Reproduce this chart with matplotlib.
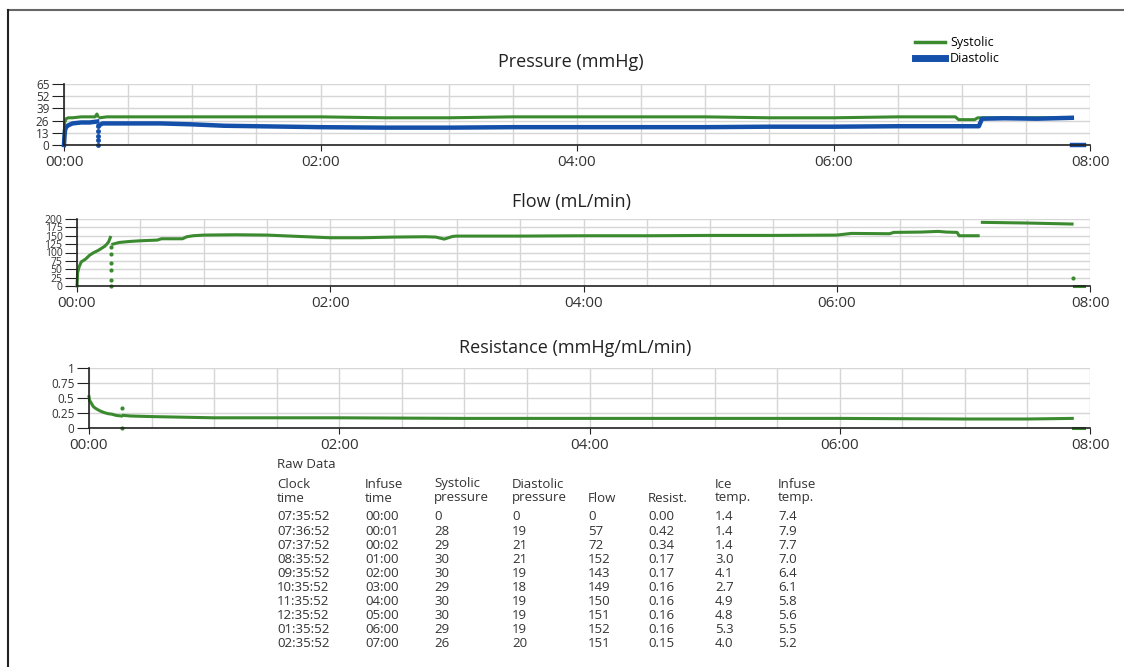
import numpy as np
import matplotlib.pyplot as plt
from matplotlib.lines import Line2D

plt.rcParams['font.family'] = ['Open Sans', 'DejaVu Sans']

# time values are minutes since start of infusion
# --- pressure (mmHg) ---
sys_t1 = [0, 0.3, 1, 2, 4, 8, 12, 14.5, 15.4, 15.8]
sys_v1 = [0, 24, 28, 29, 29, 30, 30, 30, 33, 31]
sys_t2 = [16.8, 20, 40, 60, 90, 120, 150, 180, 210, 240, 270, 300, 330, 360, 390, 417,
          418.5, 426, 427.5, 440, 455, 471.5]
sys_v2 = [29, 30, 30, 30, 30, 30, 29, 29, 30, 30, 30, 30, 29, 29, 30, 30,
          27, 27, 29, 29, 29, 29]
sys_t3 = [471.8, 477]
sys_v3 = [0, 0]

dia_t1 = [0, 0.2, 0.5, 1, 2, 4, 8, 12, 15.5]
dia_v1 = [0, 8, 16, 19, 21, 23, 24, 24, 25]
dia_drop_t = [15.9, 15.9, 15.9, 15.9, 15.9]
dia_drop_v = [20, 15, 10, 5, 0]
dia_t2 = [16.5, 18, 25, 45, 60, 75, 90, 105, 120, 150, 180, 210, 240, 270, 300, 330,
          360, 390, 420, 428, 429.5, 440, 455, 471.5]
dia_v2 = [21, 23, 23, 23, 22, 20.5, 20, 19.5, 19, 18.5, 18.5, 19, 19, 19, 19, 19.5,
          19.5, 20, 20, 20, 28, 28.5, 28, 29]
dia_t3 = [471.8, 477]
dia_v3 = [0, 0]

# --- flow (mL/min) ---
flow_t1 = [0, 0.3, 1, 2, 4, 6, 8, 10, 12, 13, 14, 15, 15.8]
flow_v1 = [0, 40, 57, 72, 80, 92, 100, 106, 114, 118, 124, 132, 145]
flow_drop_t = [16.1, 16.1, 16.1, 16.1, 16.1, 16.1]
flow_drop_v = [117, 95, 70, 48, 18, 0]
flow_t2 = [17, 20, 25, 30, 38, 40, 50, 52, 55, 60, 75, 90, 105, 120, 135, 150, 165, 170,
           174, 178, 180, 210, 240, 270, 300, 330, 360, 367, 385, 387, 400, 408, 412,
           417, 418, 427]
flow_v2 = [125, 130, 133, 135, 137, 141, 141, 147, 150, 152, 153, 152, 148, 144, 144, 146,
           147, 146, 140, 148, 149, 149, 150, 150, 151, 151, 152, 157, 156, 160, 161, 163,
           161, 160, 150, 150]
flow_t3 = [429, 450, 471.5]
flow_v3 = [190, 188, 185]
flow_end_t = [472]
flow_end_v = [25]
flow_t4 = [472.5, 477]
flow_v4 = [0, 0]

# --- resistance (mmHg/mL/min) ---
res_t1 = [0, 0.3, 1, 2, 3, 5, 7, 9, 11, 13, 15.5]
res_v1 = [0.52, 0.46, 0.42, 0.36, 0.33, 0.29, 0.26, 0.24, 0.23, 0.21, 0.2]
res_spike_t = [16, 16]
res_spike_v = [0.33, 0.0]
res_t2 = [16.5, 20, 30, 45, 60, 90, 120, 180, 240, 300, 360, 420, 450, 471.5]
res_v2 = [0.21, 0.2, 0.19, 0.18, 0.17, 0.17, 0.17, 0.16, 0.16, 0.16, 0.16, 0.15, 0.15, 0.16]
res_t3 = [472, 477]
res_v3 = [0, 0]

hour_ticks = [0, 2, 4, 6, 8]
hour_labels = ["00:00", "02:00", "04:00", "06:00", "08:00"]
pres_ticks = [0, 13, 26, 39, 52, 65]
flow_ticks = [0, 25, 50, 75, 100, 125, 150, 175, 200]
res_ticks = [0, 0.25, 0.5, 0.75, 1]
res_labels = ["0", "0.25", "0.5", "0.75", "1"]

# raw data table
tbl_headers = [("Clock", "time"), ("Infuse", "time"), ("Systolic", "pressure"),
               ("Diastolic", "pressure"), ("", "Flow"), ("", "Resist."),
               ("Ice", "temp."), ("Infuse", "temp.")]
clock_time = ["07:35:52", "07:36:52", "07:37:52", "08:35:52", "09:35:52", "10:35:52",
              "11:35:52", "12:35:52", "01:35:52", "02:35:52"]
infuse_time = ["00:00", "00:01", "00:02", "01:00", "02:00", "03:00", "04:00", "05:00",
               "06:00", "07:00"]
systolic = [0, 28, 29, 30, 30, 29, 30, 30, 29, 26]
diastolic = [0, 19, 21, 21, 19, 18, 19, 19, 19, 20]
flow = [0, 57, 72, 152, 143, 149, 150, 151, 152, 151]
resist = [0.00, 0.42, 0.34, 0.17, 0.17, 0.16, 0.16, 0.16, 0.16, 0.15]
ice_temp = [1.4, 1.4, 1.4, 3.0, 4.1, 2.7, 4.9, 4.8, 5.3, 4.0]
infuse_temp = [7.4, 7.9, 7.7, 7.0, 6.4, 6.1, 5.8, 5.6, 5.5, 5.2]

GREEN = '#3b8a2f'
BLUE = '#1450aa'
W, H = 1124, 667


def hrs(m):
    return np.array(m) / 60.0


fig = plt.figure(figsize=(W / 100, H / 100), dpi=100)


def px_axes(left, top, right, bottom):
    return fig.add_axes([left / W, 1 - bottom / H, (right - left) / W, (bottom - top) / H])


def style(ax, yticks, ylabels, fs):
    ax.set_xlim(0, 8)
    ax.set_ylim(yticks[0], yticks[-1])
    ax.set_xticks(hour_ticks)
    ax.set_xticklabels(hour_labels, fontsize=11, color='#333333')
    ax.set_xticks(np.arange(0, 8.01, 0.5), minor=True)
    ax.set_yticks(yticks)
    ax.set_yticklabels(ylabels, fontsize=fs, color='#333333')
    ax.grid(which='both', color='#d6d6d6', lw=1)
    ax.set_axisbelow(True)
    ax.tick_params(axis='x', which='minor', length=0)
    ax.tick_params(axis='x', which='major', length=4, pad=3, color='#222222')
    ax.tick_params(axis='y', length=9, pad=1.5, color='#222222')
    for s in ['top', 'right']:
        ax.spines[s].set_visible(False)
    for s in ['left', 'bottom']:
        ax.spines[s].set_color('#222222')
        ax.spines[s].set_linewidth(1.2)


# pressure
ax1 = px_axes(64, 84, 1090, 145)
style(ax1, pres_ticks, [str(v) for v in pres_ticks], 8.5)
for t, v in [(sys_t1, sys_v1), (sys_t2, sys_v2), (sys_t3, sys_v3)]:
    ax1.plot(hrs(t), v, color=GREEN, lw=2.2, clip_on=False)
for t, v in [(dia_t1, dia_v1), (dia_t2, dia_v2), (dia_t3, dia_v3)]:
    ax1.plot(hrs(t), v, color=BLUE, lw=3.2, clip_on=False)
ax1.plot(hrs(dia_drop_t), dia_drop_v, 'o', color=BLUE, ms=2.5, clip_on=False)

# flow
ax2 = px_axes(77, 219, 1090, 286)
style(ax2, flow_ticks, [str(v) for v in flow_ticks], 7.5)
for t, v in [(flow_t1, flow_v1), (flow_t2, flow_v2), (flow_t3, flow_v3), (flow_t4, flow_v4)]:
    ax2.plot(hrs(t), v, color=GREEN, lw=2.2, clip_on=False)
ax2.plot(hrs(flow_drop_t), flow_drop_v, 'o', color=GREEN, ms=2, clip_on=False)
ax2.plot(hrs(flow_end_t), flow_end_v, 'o', color=GREEN, ms=2, clip_on=False)

# resistance
ax3 = px_axes(89, 368, 1090, 428)
style(ax3, res_ticks, res_labels, 8.5)
for t, v in [(res_t1, res_v1), (res_t2, res_v2), (res_t3, res_v3)]:
    ax3.plot(hrs(t), v, color=GREEN, lw=2.2, clip_on=False)
ax3.plot(hrs(res_spike_t), res_spike_v, 'o', color=GREEN, ms=2, clip_on=False)

# titles
fig.text(571 / W, 1 - 62 / H, "Pressure (mmHg)", ha='center', va='center', fontsize=13, color='#222222')
fig.text(572 / W, 1 - 202 / H, "Flow (mL/min)", ha='center', va='center', fontsize=13, color='#222222')
fig.text(575 / W, 1 - 348 / H, "Resistance (mmHg/mL/min)", ha='center', va='center', fontsize=13, color='#222222')

# legend
handles = [Line2D([], [], color=GREEN, lw=2.5), Line2D([], [], color=BLUE, lw=5)]
fig.legend(handles, ["Systolic", "Diastolic"], loc='upper left',
           bbox_to_anchor=(910 / W, 1 - 31 / H), frameon=False, fontsize=9,
           handlelength=2.4, handletextpad=0.4, labelspacing=0.25, borderaxespad=0)

# page border (top and left)
fig.add_artist(Line2D([8 / W, 1], [1 - 9.5 / H, 1 - 9.5 / H], transform=fig.transFigure, color='#666666', lw=1.5))
fig.add_artist(Line2D([8 / W, 8 / W], [0, 1 - 9.5 / H], transform=fig.transFigure, color='#222222', lw=1.5))

# raw data table
col_x = [277, 365, 434, 512, 588, 648, 715, 778]
fig.text(277 / W, 1 - 465 / H, "Raw Data", fontsize=9.5, va='center', color='#333333')
for x, (h1, h2) in zip(col_x, tbl_headers):
    fig.text(x / W, 1 - 484 / H, h1, fontsize=9.5, va='center', color='#333333')
    fig.text(x / W, 1 - 498 / H, h2, fontsize=9.5, va='center', color='#333333')
columns = [clock_time, infuse_time, [str(v) for v in systolic], [str(v) for v in diastolic],
           [str(v) for v in flow], ["%.2f" % v for v in resist], ["%.1f" % v for v in ice_temp],
           ["%.1f" % v for v in infuse_temp]]
for x, col in zip(col_x, columns):
    for i, val in enumerate(col):
        fig.text(x / W, 1 - (517 + i * 14.1) / H, val, fontsize=9.5, va='center', color='#333333')

fig.savefig("out.png", dpi=100)
